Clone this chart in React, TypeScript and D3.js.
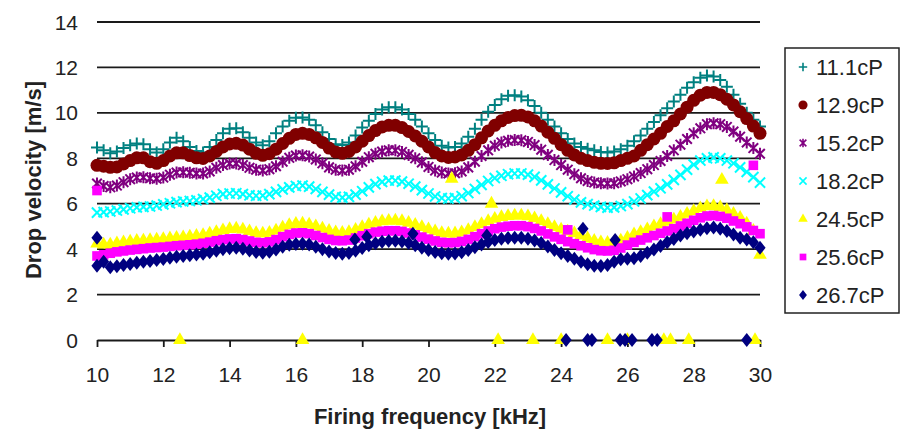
import React from "react";
import * as d3 from "d3";

// x grid (kHz)
const freqs = [
  10, 10.2, 10.4, 10.6, 10.8, 11, 11.2, 11.4, 11.6, 11.8, 12, 12.2, 12.4, 12.6, 12.8, 13, 13.2, 13.4, 13.6, 13.8,
  14, 14.2, 14.4, 14.6, 14.8, 15, 15.2, 15.4, 15.6, 15.8, 16, 16.2, 16.4, 16.6, 16.8, 17, 17.2, 17.4, 17.6, 17.8,
  18, 18.2, 18.4, 18.6, 18.8, 19, 19.2, 19.4, 19.6, 19.8, 20, 20.2, 20.4, 20.6, 20.8, 21, 21.2, 21.4, 21.6, 21.8,
  22, 22.2, 22.4, 22.6, 22.8, 23, 23.2, 23.4, 23.6, 23.8, 24, 24.2, 24.4, 24.6, 24.8, 25, 25.2, 25.4, 25.6, 25.8,
  26, 26.2, 26.4, 26.6, 26.8, 27, 27.2, 27.4, 27.6, 27.8, 28, 28.2, 28.4, 28.6, 28.8, 29, 29.2, 29.4, 29.6, 29.8, 30,
];

const seriesNames = ["11.1cP", "12.9cP", "15.2cP", "18.2cP", "24.5cP", "25.6cP", "26.7cP"];

const v111 = [
  8.48, 8.35, 8.22, 8.3, 8.45, 8.57, 8.65, 8.62, 8.4, 8.26, 8.4, 8.7, 8.9, 8.75, 8.5, 8.32, 8.26, 8.5, 8.8, 9.1,
  9.3, 9.32, 9.15, 8.9, 8.7, 8.57, 8.75, 9.1, 9.4, 9.65, 9.78, 9.8, 9.7, 9.45, 9.15, 8.85, 8.62, 8.58, 8.7, 9.0,
  9.35, 9.65, 9.95, 10.15, 10.25, 10.25, 10.15, 9.95, 9.7, 9.4, 9.1, 8.8, 8.55, 8.48, 8.5, 8.65, 8.95, 9.3, 9.7, 10.05,
  10.35, 10.6, 10.75, 10.78, 10.72, 10.55, 10.3, 10.0, 9.7, 9.4, 9.1, 8.85, 8.65, 8.5, 8.42, 8.35, 8.28, 8.26, 8.3, 8.4,
  8.55, 8.75, 9.0, 9.3, 9.6, 9.9, 10.2, 10.5, 10.8, 11.1, 11.35, 11.55, 11.65, 11.6, 11.45, 11.15, 10.8, 10.4, 10.0, 9.7, 9.4,
];

const v129 = [
  7.69, 7.65, 7.6, 7.62, 7.75, 7.9, 8.02, 8.02, 7.85, 7.78, 7.9, 8.1, 8.24, 8.24, 8.12, 8.02, 7.99, 8.1, 8.3, 8.5,
  8.63, 8.66, 8.58, 8.4, 8.22, 8.13, 8.2, 8.4, 8.65, 8.88, 9.05, 9.1, 9.05, 8.9, 8.7, 8.45, 8.28, 8.22, 8.3, 8.5,
  8.75, 9.0, 9.22, 9.38, 9.45, 9.45, 9.35, 9.18, 8.98, 8.75, 8.5, 8.25, 8.1, 8.04, 8.06, 8.15, 8.35, 8.6, 8.9, 9.2,
  9.45, 9.65, 9.8, 9.88, 9.89, 9.82, 9.65, 9.42, 9.15, 8.88, 8.6, 8.35, 8.15, 8.0, 7.9, 7.82, 7.78, 7.77, 7.8, 7.9,
  8.0, 8.1, 8.35, 8.6, 8.85, 9.1, 9.4, 9.65, 9.95, 10.25, 10.55, 10.78, 10.9, 10.9, 10.8, 10.6, 10.35, 10.05, 9.75, 9.42, 9.1,
];

const v152 = [
  6.89, 6.78, 6.72, 6.8, 6.95, 7.08, 7.15, 7.16, 7.12, 7.1, 7.15, 7.28, 7.37, 7.38, 7.36, 7.33, 7.33, 7.42, 7.58, 7.7,
  7.77, 7.77, 7.7, 7.58, 7.5, 7.46, 7.52, 7.65, 7.85, 8.02, 8.12, 8.13, 8.08, 7.95, 7.78, 7.6, 7.5, 7.46, 7.5, 7.65,
  7.85, 8.05, 8.2, 8.3, 8.35, 8.35, 8.28, 8.15, 8.0, 7.82, 7.62, 7.46, 7.37, 7.33, 7.34, 7.42, 7.6, 7.85, 8.1, 8.35,
  8.55, 8.7, 8.77, 8.8, 8.79, 8.72, 8.58, 8.38, 8.15, 7.92, 7.7, 7.5, 7.3, 7.12, 7.0, 6.93, 6.9, 6.89, 6.9, 6.98,
  7.08, 7.2, 7.35, 7.52, 7.7, 7.88, 8.1, 8.35, 8.6, 8.85, 9.1, 9.32, 9.5, 9.54, 9.5, 9.38, 9.18, 8.95, 8.7, 8.45, 8.2,
];

const v182 = [
  5.61, 5.63, 5.66, 5.7, 5.75, 5.8, 5.84, 5.86, 5.88, 5.92, 5.97, 6.02, 6.07, 6.1, 6.12, 6.15, 6.2, 6.27, 6.35, 6.42,
  6.45, 6.46, 6.42, 6.37, 6.35, 6.36, 6.42, 6.52, 6.63, 6.72, 6.78, 6.8, 6.75, 6.65, 6.52, 6.4, 6.3, 6.27, 6.3, 6.4,
  6.55, 6.72, 6.86, 6.96, 7.02, 7.02, 6.97, 6.88, 6.75, 6.6, 6.45, 6.32, 6.25, 6.23, 6.25, 6.33, 6.47, 6.65, 6.83, 7.0,
  7.13, 7.23, 7.3, 7.33, 7.33, 7.28, 7.18, 7.03, 6.85, 6.67, 6.5, 6.33, 6.18, 6.06, 5.98, 5.92, 5.86, 5.83, 5.84, 5.9,
  5.98, 6.1, 6.23, 6.38, 6.53, 6.68, 6.85, 7.05, 7.27, 7.5, 7.72, 7.9, 8.0, 8.04, 8.0, 7.9, 7.78, 7.6, 7.4, 7.17, 6.93,
];

const v245 = [
  4.24, 4.2, 4.2, 4.25, 4.3, 4.33, 4.36, 4.38, 4.4, 4.42, 4.44, 4.47, 4.5, 4.52, 4.55, 4.58, 4.62, 4.68, 4.75, 4.83,
  4.88, 4.9, 4.86, 4.78, 4.71, 4.68, 4.72, 4.82, 4.95, 5.06, 5.11, 5.12, 5.08, 5.0, 4.9, 4.8, 4.74, 4.72, 4.75, 4.85,
  4.97, 5.08, 5.16, 5.22, 5.25, 5.26, 5.23, 5.16, 5.07, 4.97, 4.87, 4.78, 4.71, 4.68, 4.69, 4.74, 4.84, 4.97, 5.1, 5.23,
  5.33, 5.41, 5.46, 5.48, 5.48, 5.44, 5.36, 5.24, 5.1, 4.97, 4.86, 4.77, 4.7, 4.6, 4.47, 4.37, 4.3, 4.28, 4.3, 4.38,
  4.5, 4.65, 4.75, 4.87, 5.0, 5.1, 5.2, 5.3, 5.42, 5.55, 5.68, 5.8, 5.88, 5.9, 5.84, 5.72, 5.55, 5.38, 5.12, 4.8, 3.75,
];

const v256 = [
  3.7, 3.75, 3.82, 3.88, 3.92, 3.96, 3.99, 4.02, 4.05, 4.07, 4.09, 4.12, 4.15, 4.17, 4.19, 4.22, 4.26, 4.31, 4.37, 4.42,
  4.45, 4.46, 4.42, 4.36, 4.3, 4.28, 4.32, 4.42, 4.55, 4.65, 4.71, 4.72, 4.68, 4.6, 4.51, 4.43, 4.38, 4.37, 4.4, 4.49,
  4.59, 4.68, 4.75, 4.79, 4.81, 4.81, 4.78, 4.71, 4.63, 4.53, 4.44, 4.36, 4.3, 4.28, 4.29, 4.34, 4.43, 4.55, 4.68, 4.8,
  4.9, 4.97, 5.01, 5.03, 5.03, 4.99, 4.91, 4.8, 4.67, 4.54, 4.43, 4.33, 4.24, 4.15, 4.06, 3.98, 3.93, 3.92, 3.95, 4.05,
  4.18, 4.3, 4.4, 4.5, 4.6, 4.7, 4.8, 4.9, 5.02, 5.14, 5.27, 5.38, 5.46, 5.48, 5.44, 5.36, 5.24, 5.12, 4.98, 4.82, 4.68,
];

const v267 = [
  3.27, 3.45, 3.2, 3.25, 3.3, 3.35, 3.4, 3.44, 3.48, 3.52, 3.57, 3.62, 3.67, 3.7, 3.73, 3.76, 3.8, 3.86, 3.93, 4.0,
  4.04, 4.06, 4.02, 3.94, 3.87, 3.84, 3.88, 3.98, 4.1, 4.19, 4.23, 4.24, 4.2, 4.11, 4.0, 3.9, 3.83, 3.8, 3.83, 3.93,
  4.05, 4.17, 4.26, 4.32, 4.36, 4.37, 4.34, 4.27, 4.17, 4.06, 3.96, 3.87, 3.82, 3.8, 3.81, 3.86, 3.96, 4.08, 4.2, 4.31,
  4.4, 4.46, 4.49, 4.5, 4.5, 4.46, 4.38, 4.27, 4.12, 3.96, 3.82, 3.7, 3.58, 3.45, 3.33, 3.27, 3.26, 3.3, 3.45, 3.56,
  3.58, 3.6, 3.7, 3.84, 3.98, 4.14, 4.3, 4.45, 4.6, 4.7, 4.78, 4.85, 4.92, 4.95, 4.9, 4.8, 4.65, 4.5, 4.42, 4.3, 4.06,
];

// stray points (frequency, value) off the main curves
const extra245F = [12.5, 16.2, 22.1, 23.15, 24.0, 25.4, 26.0, 27.1, 27.3, 27.85, 29.85, 20.7, 21.9, 28.85];
const extra245V = [0, 0, 0, 0, 0, 0, 0, 0, 0, 0, 0, 7.1, 6.0, 7.05];
const extra256F = [10.0, 24.2, 27.2, 29.8];
const extra256V = [6.58, 4.85, 5.42, 7.69];
const extra267F = [24.15, 24.8, 24.93, 25.78, 25.93, 26.14, 26.74, 26.9, 29.6, 10.0, 17.78, 18.14, 19.53, 21.76, 24.66, 25.63];
const extra267V = [0, 0, 0, 0, 0, 0, 0, 0, 0, 4.5, 4.42, 4.55, 4.68, 4.6, 4.9, 4.4];

const yTicks = [0, 2, 4, 6, 8, 10, 12, 14];
const xTicks = [10, 12, 14, 16, 18, 20, 22, 24, 26, 28, 30];

const markerPath = (shape: string, k: number) => {
  const s = 6 * k;
  switch (shape) {
    case "plus":
      return `M${-s},0H${s}M0,${-s}V${s}`;
    case "cross":
      return `M${-s * 0.85},${-s * 0.85}L${s * 0.85},${s * 0.85}M${-s * 0.85},${s * 0.85}L${s * 0.85},${-s * 0.85}`;
    case "star":
      return `M${-s * 0.8},${-s * 0.8}L${s * 0.8},${s * 0.8}M${-s * 0.8},${s * 0.8}L${s * 0.8},${-s * 0.8}M0,${-s}V${s}`;
    case "triangle":
      return d3.symbol(d3.symbolTriangle, 80 * k * k)()!;
    case "square":
      return `M${-4.8 * k},${-4.8 * k}h${9.6 * k}v${9.6 * k}h${-9.6 * k}Z`;
    case "diamond":
      return `M0,${-7 * k}L${5.6 * k},0L0,${7 * k}L${-5.6 * k},0Z`;
    default:
      return d3.symbol(d3.symbolCircle, Math.PI * 6.5 * 6.5 * k * k)()!;
  }
};

const App = () => {
  const svgRef = React.useRef<SVGSVGElement>(null);

  React.useEffect(() => {
    const width = 906;
    const height = 433;
    const font = "'Liberation Sans', Arial, sans-serif";

    const series = [
      { name: seriesNames[0], values: v111, exF: [], exV: [], color: "#008080", shape: "plus", stroke: true },
      { name: seriesNames[1], values: v129, exF: [], exV: [], color: "#800000", shape: "circle", stroke: false },
      { name: seriesNames[2], values: v152, exF: [], exV: [], color: "#800080", shape: "star", stroke: true },
      { name: seriesNames[3], values: v182, exF: [], exV: [], color: "#00ffff", shape: "cross", stroke: true },
      { name: seriesNames[4], values: v245, exF: extra245F, exV: extra245V, color: "#ffff00", shape: "triangle", stroke: false },
      { name: seriesNames[5], values: v256, exF: extra256F, exV: extra256V, color: "#ff00ff", shape: "square", stroke: false },
      { name: seriesNames[6], values: v267, exF: extra267F, exV: extra267V, color: "#000080", shape: "diamond", stroke: false },
    ];

    const x = d3.scaleLinear().domain([10, 30]).range([97, 760]);
    const y = d3.scaleLinear().domain([0, 14]).range([340, 22]);

    const svg = d3.select(svgRef.current);
    svg.selectAll("*").remove();

    svg.append("rect").attr("width", width).attr("height", height).attr("fill", "#fff");

    // gridlines
    svg
      .append("g")
      .selectAll("line")
      .data(yTicks.filter((d) => d > 0))
      .join("line")
      .attr("x1", x(10))
      .attr("x2", x(30))
      .attr("y1", (d) => y(d))
      .attr("y2", (d) => y(d))
      .attr("stroke", "#1a1a1a")
      .attr("stroke-width", 1.8);

    // x axis at zero
    const xAxis = svg
      .append("g")
      .attr("transform", `translate(0,${y(0)})`)
      .call(d3.axisBottom(x).tickValues(xTicks).tickSize(7).tickSizeOuter(0).tickFormat(d3.format("d")));
    xAxis.select(".domain").attr("stroke", "#1a1a1a").attr("stroke-width", 1.8);
    xAxis.selectAll(".tick line").attr("stroke", "#1a1a1a").attr("stroke-width", 1.8);
    xAxis
      .selectAll(".tick text")
      .attr("font-family", font)
      .attr("font-size", 21)
      .attr("fill", "#222")
      .attr("dy", 0)
      .attr("y", 42);

    // y labels
    svg
      .append("g")
      .selectAll("text")
      .data(yTicks)
      .join("text")
      .attr("x", 78)
      .attr("y", (d) => y(d) + 7.5)
      .attr("text-anchor", "end")
      .attr("font-family", font)
      .attr("font-size", 21)
      .attr("fill", "#222")
      .text((d) => d);

    // points
    series.forEach((s) => {
      const pts = s.values.map((v, i) => [freqs[i], v]).concat(s.exF.map((f, i) => [f, s.exV[i]]));
      const d = markerPath(s.shape, 1);
      svg
        .append("g")
        .selectAll("path")
        .data(pts)
        .join("path")
        .attr("transform", (p) => `translate(${x(p[0])},${y(p[1])})`)
        .attr("d", d)
        .attr("fill", s.stroke ? "none" : s.color)
        .attr("stroke", s.stroke ? s.color : "none")
        .attr("stroke-width", s.stroke ? 2 : 0);
    });

    // axis titles
    svg
      .append("text")
      .attr("x", 430)
      .attr("y", 424)
      .attr("text-anchor", "middle")
      .attr("font-family", font)
      .attr("font-weight", "bold")
      .attr("font-size", 22)
      .attr("fill", "#222")
      .text("Firing frequency [kHz]");

    svg
      .append("text")
      .attr("transform", "translate(41,180) rotate(-90)")
      .attr("text-anchor", "middle")
      .attr("font-family", font)
      .attr("font-weight", "bold")
      .attr("font-size", 22)
      .attr("fill", "#222")
      .text("Drop velocity [m/s]");

    // legend
    const legend = svg.append("g");
    legend
      .append("rect")
      .attr("x", 785)
      .attr("y", 48)
      .attr("width", 114)
      .attr("height", 265)
      .attr("fill", "#fff")
      .attr("stroke", "#222")
      .attr("stroke-width", 1.5);

    const items = legend
      .selectAll("g")
      .data(series)
      .join("g")
      .attr("transform", (_, i) => `translate(0,${67 + i * 38})`);

    items
      .append("path")
      .attr("transform", "translate(803,0)")
      .attr("d", (s) => markerPath(s.shape, 0.7))
      .attr("fill", (s) => (s.stroke ? "none" : s.color))
      .attr("stroke", (s) => (s.stroke ? s.color : "none"))
      .attr("stroke-width", (s) => (s.stroke ? 1.6 : 0));

    items
      .append("text")
      .attr("x", 816)
      .attr("y", 8)
      .attr("font-family", font)
      .attr("font-size", 22)
      .attr("fill", "#222")
      .text((s) => s.name);
  }, []);

  return (
    <svg
      ref={svgRef}
      width={906}
      height={433}
      style={{ position: "absolute", left: 0, top: 0, display: "block" }}
    />
  );
};

export default App;
